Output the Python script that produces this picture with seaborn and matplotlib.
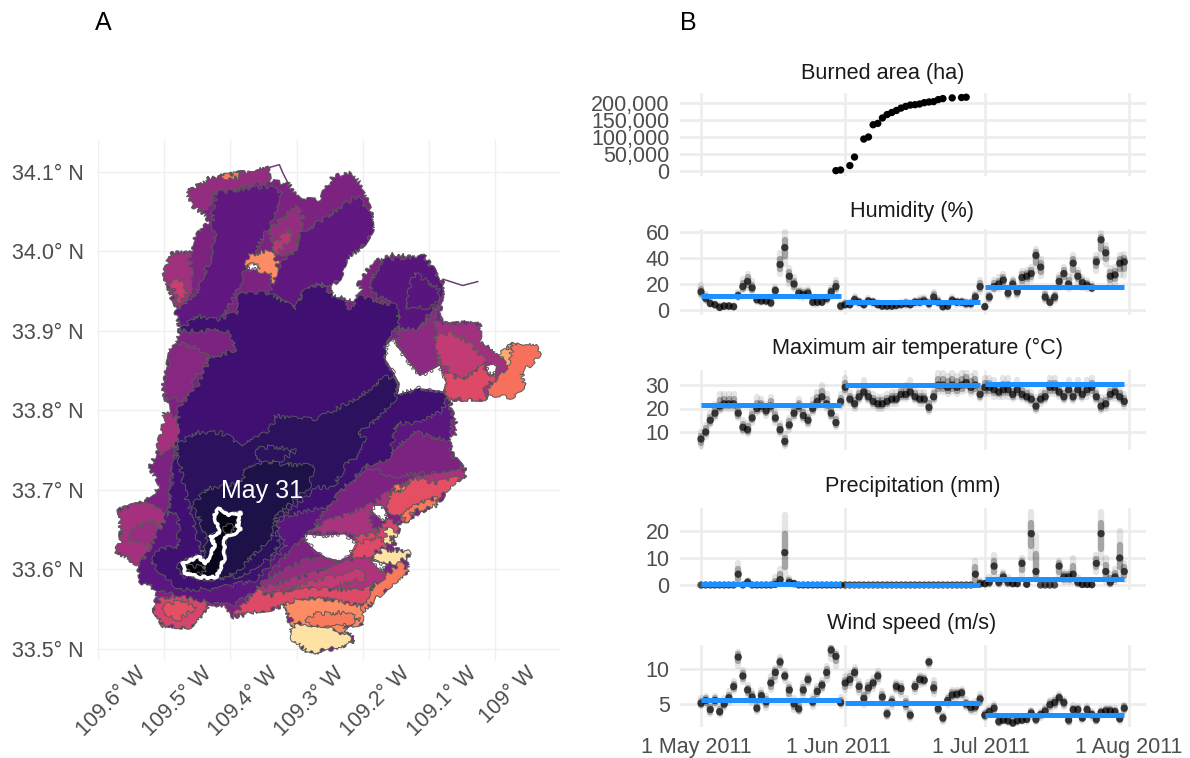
import numpy as np
import pandas as pd
import matplotlib.pyplot as plt
from matplotlib.path import Path
from matplotlib.transforms import ScaledTranslation
import seaborn as sns

# ---- time series, one value per day 1 May - 31 Jul 2011
burn_days = [29, 30, 32, 33, 35, 36, 37, 38, 39, 40, 41, 42, 43, 44, 45, 46, 47, 48, 49, 50, 51, 52, 54, 56, 57]
burn_ha = [1000, 3000, 16000, 41000, 94000, 100000, 136000, 140000, 156000, 166000, 172000, 178000, 185000,
           190000, 194000, 195000, 197000, 201000, 203000, 204000, 210000, 213000, 215000, 216000, 217000]

hum = [14, 9, 5, 4, 2, 3, 3, 2.5, 11, 18, 22, 17, 8, 7, 7, 5.5, 15, 35, 48, 26, 20, 13, 12, 13, 6, 6, 6, 9, 14, 18, 3,
       4, 4, 8, 6, 4, 7, 6, 4, 3, 3, 3, 3.5, 4, 5, 4, 6, 6, 7, 5, 10, 6, 2.5, 3, 7.5, 6, 6, 5, 5, 10, 18,
       2.5, 10, 18, 20, 23, 13, 20, 14, 25, 26, 28, 42, 33, 10, 6, 10, 22, 28, 20, 36, 26, 21, 19, 17, 37, 54, 44, 26, 27, 36, 37]
hum_lo = [11, 7, 4, 3, 1.5, 2, 2, 2, 9, 15, 17, 14, 6, 5, 5, 4, 12, 28, 35, 20, 16, 10, 9, 10, 4, 4, 5, 7, 10, 14, 1.5,
          3, 3, 5, 4, 3, 5, 4, 3, 2, 2, 2, 2, 3, 3, 3, 4, 4, 5, 3, 6, 4, 1.5, 2, 5, 4, 4, 3, 3, 7, 14,
          1.5, 7, 15, 16, 18, 10, 16, 11, 19, 21, 23, 30, 26, 7, 4, 7, 17, 22, 16, 25, 21, 17, 16, 15, 30, 40, 35, 20, 20, 27, 26]
hum_hi = [19, 12, 7, 5, 3.5, 4, 4, 4, 14, 24, 28, 22, 10, 9, 9, 8, 18, 44, 60, 32, 25, 16, 15, 16, 9, 9, 9, 11, 17, 23, 5,
          6, 6, 11, 8, 6, 9, 8, 6, 5, 5, 5, 5, 6, 7, 6, 8, 9, 10, 7, 14, 9, 4, 5, 10, 8, 8, 7, 7, 13, 23,
          4, 13, 23, 25, 28, 16, 24, 17, 30, 31, 33, 47, 39, 14, 9, 13, 27, 33, 26, 42, 31, 25, 23, 20, 42, 59, 50, 32, 33, 42, 43]

tmax = [7, 10, 15, 18, 21, 22, 22, 22, 18, 12, 11, 16, 20, 21, 19, 21, 16, 11, 6, 13, 18, 21, 17, 15, 20, 23, 25, 22, 18, 14, 23,
        29, 24, 22, 25, 27, 25, 23, 22, 22, 23, 24, 24, 26, 26, 27, 25, 24, 24, 20.5, 25, 30, 30, 29, 30, 29, 30, 31, 29, 30, 26,
        29, 29, 28, 27, 28, 28, 26, 28, 26, 25, 24, 21, 24, 25, 29, 29, 27, 25, 28, 25, 28, 26, 28, 29, 25, 21, 22, 26, 27, 25, 23]
tmax_lo = [4, 8, 13, 16, 19, 20, 20, 20, 16, 10, 9, 14, 18, 19, 17, 19, 14, 9, 4, 11, 16, 19, 15, 13, 18, 21, 23, 20, 16, 12, 21,
           27, 22, 20, 23, 25, 23, 21, 20, 20, 21, 22, 22, 24, 24, 25, 23, 22, 22, 18.5, 23, 27, 27, 26, 27, 26, 27, 28, 26, 27, 24,
           26, 26, 25, 25, 25, 25, 24, 25, 24, 23, 22, 19, 22, 23, 26, 26, 25, 23, 25, 23, 25, 24, 25, 26, 23, 19, 20, 24, 24, 23, 21]
tmax_hi = [10, 13, 18, 22, 26, 26, 26, 26, 21, 15, 14, 19, 25, 24, 22, 25, 19, 14, 9, 16, 21, 24, 20, 18, 24, 27, 30, 26, 21, 17, 26,
           33, 27, 25, 28, 32, 28, 26, 25, 25, 26, 27, 27, 29, 30, 32, 28, 27, 27, 24, 28, 35, 35, 34, 35, 34, 35, 36, 34, 35, 29,
           33, 33, 32, 30, 33, 33, 29, 32, 30, 28, 27, 25, 27, 28, 33, 33, 30, 28, 32, 28, 32, 30, 32, 33, 28, 25, 25, 29, 30, 28, 26]

prec = [0, 0, 0, 0, 0, 0, 0, 0, 4, 0, 1, 0, 0, 0, 0, 0, 0.3, 2, 12, 1, 0.5, 0, 0, 0, 0, 0, 0, 0, 0, 0, 0,
        0, 0, 0, 0, 0, 0, 0, 0, 0, 0, 0, 0, 0, 0, 0, 0, 0, 0, 0, 0, 0, 0, 0, 0, 0, 0, 0, 0, 4, 0.5,
        0.5, 1, 7, 1, 3, 1, 0.5, 0.5, 8, 0.3, 19, 5, 0, 0, 0, 0, 7, 3, 3, 4, 1, 0.2, 0.2, 0.1, 8, 19, 5, 1, 3, 10, 5]
prec_lo = [0, 0, 0, 0, 0, 0, 0, 0, 0.5, 0, 0.3, 0, 0, 0, 0, 0, 0, 0.5, 1, 0.3, 0, 0, 0, 0, 0, 0, 0, 0, 0, 0, 0,
           0, 0, 0, 0, 0, 0, 0, 0, 0, 0, 0, 0, 0, 0, 0, 0, 0, 0, 0, 0, 0, 0, 0, 0, 0, 0, 0, 0, 0, 0,
           0, 0, 3, 0, 1, 0, 0, 0, 3, 0, 10, 2, 0, 0, 0, 0, 3, 1, 1, 1, 0, 0, 0, 0, 5, 8, 1, 0, 1, 3, 2]
prec_hi = [0, 0, 0, 0, 0, 0, 0, 0, 8, 0, 2, 0, 0, 0, 0, 0, 3, 6, 26, 2.5, 1, 0, 0, 0, 0, 0, 0, 0, 0, 0, 0,
           0, 0, 0, 0, 0, 0, 0, 0, 0, 0, 0, 0, 0, 0, 0, 0, 0, 0, 0, 0, 0, 0, 0, 0, 0, 0, 0, 0, 9, 2,
           1, 3, 11, 3, 5, 3, 1.5, 1, 10, 1, 27, 18, 0, 0, 0, 0, 9, 5, 5, 10, 3, 0.5, 0.5, 0.5, 11, 27, 10, 4, 6, 20, 8]

wind = [5.1, 5.5, 4.2, 5.5, 3.9, 5, 5.9, 7.5, 11.7, 9, 7, 6, 4.4, 6.2, 5.3, 8, 9.5, 11, 9, 7, 5, 4.3, 7, 8.5, 5.3, 6.8, 7.7, 9.5, 12.7, 11.8, 5.2,
        8, 8.5, 9.5, 7.5, 5.8, 7.3, 8, 9, 6, 3.6, 5.3, 7.5, 7.2, 5, 3.4, 7.5, 8.5, 8.4, 11, 7.3, 4.3, 3, 5.5, 6.3, 6.4, 6.6, 5, 4.5, 4.6, 5.7,
        3.4, 3.9, 4.4, 2.5, 2.7, 2.6, 2.3, 2.6, 2.7, 2.8, 3.7, 2.8, 3.5, 4, 4.9, 5.2, 5.9, 5.2, 2.7, 4.2, 4.2, 3, 4.2, 3.5, 2.8, 3.8, 4, 4, 3.9, 2.9, 4.4]
wind_lo = [4.7, 4.8, 3.6, 4.8, 3.4, 4.4, 5.2, 6.8, 10.5, 8.2, 6.2, 5.2, 3.9, 5.5, 4.5, 7, 8.3, 10.2, 8.3, 6, 4.2, 3.8, 6.2, 7.8, 4.6, 6, 7, 8.5, 11.5, 10.5, 4.7,
           7, 7.6, 8.7, 6.6, 4.8, 6.4, 7.2, 8.2, 5.4, 3.1, 4.6, 6.8, 6.3, 4.2, 2.9, 6.7, 7.7, 7.8, 10.5, 6.5, 3.8, 2.5, 4.8, 5.6, 5.8, 6, 4.4, 3.9, 3.9, 5,
           3, 3.4, 3.9, 2.2, 2.4, 2.3, 2, 2.3, 2.4, 2.5, 3.1, 2.4, 3, 3.5, 4.2, 4.6, 5.3, 4.6, 2.3, 3.7, 3.7, 2.6, 3.7, 3, 2.4, 3.3, 3.5, 3.5, 3.4, 2.5, 3.9]
wind_hi = [5.8, 6.2, 5, 6.2, 4.6, 5.8, 6.8, 8.3, 12.5, 9.8, 7.7, 6.9, 5, 7, 6.2, 9, 10.2, 11.7, 9.7, 7.9, 5.8, 5, 8, 9.2, 6.2, 7.6, 8.4, 10.5, 13.3, 12.5, 6,
           9, 9.4, 10.3, 8.3, 6.8, 8.2, 8.7, 9.7, 6.8, 4.2, 6, 8.2, 8, 5.8, 4, 8.2, 9.2, 9, 11.4, 8.4, 4.9, 3.6, 6.2, 7, 7, 7.2, 5.7, 5.2, 5.4, 6.4,
           3.9, 4.4, 5, 2.9, 3.2, 3.1, 2.8, 3.1, 3.2, 3.3, 4.2, 3.3, 4, 4.6, 5.6, 5.9, 6.4, 5.7, 3.2, 4.8, 4.7, 3.5, 4.7, 4, 3.3, 4.3, 4.5, 4.5, 4.4, 3.4, 4.9]

hum_month = [10.5, 6, 17.5]
tmax_month = [21.5, 30, 30.5]
prec_month = [0.2, 0.1, 2.4]
wind_month = [5.6, 5.1, 3.4]

month_start = ['2011-05-01', '2011-06-01', '2011-07-01']
month_end = ['2011-05-31', '2011-06-30', '2011-07-31']
date_ticks = ['2011-05-01', '2011-06-01', '2011-07-01', '2011-08-01']
date_labels = ['1 May 2011', '1 Jun 2011', '1 Jul 2011', '1 Aug 2011']

# ---- fire perimeters digitised as (lon W, lat N)
perimeter_all = [(109.466, 34.074), (109.432, 34.092), (109.343, 34.105), (109.341, 34.088), (109.313, 34.086), (109.296, 34.065),
                 (109.265, 34.065), (109.245, 34.094), (109.217, 34.099), (109.200, 34.082), (109.187, 34.050), (109.185, 34.027),
                 (109.200, 34.006), (109.225, 33.990), (109.235, 33.965), (109.245, 33.958), (109.243, 33.944), (109.215, 33.939),
                 (109.200, 33.948), (109.207, 33.960), (109.185, 33.986), (109.154, 33.996), (109.107, 33.994), (109.079, 33.960),
                 (109.079, 33.948), (109.084, 33.914), (109.023, 33.908), (109.023, 33.889), (108.981, 33.856), (109.018, 33.826),
                 (109.013, 33.814), (109.069, 33.814), (109.064, 33.793), (109.056, 33.776), (109.069, 33.761), (109.064, 33.743),
                 (109.046, 33.726), (109.046, 33.717), (109.069, 33.711), (109.081, 33.688), (109.114, 33.671), (109.144, 33.659),
                 (109.152, 33.629), (109.129, 33.621), (109.132, 33.598), (109.165, 33.575), (109.200, 33.546), (109.202, 33.531),
                 (109.230, 33.529), (109.212, 33.510), (109.235, 33.502), (109.280, 33.494), (109.306, 33.512), (109.308, 33.529),
                 (109.321, 33.554), (109.338, 33.550), (109.366, 33.546), (109.396, 33.539), (109.406, 33.554), (109.432, 33.552),
                 (109.462, 33.527), (109.502, 33.529), (109.515, 33.548), (109.510, 33.575), (109.535, 33.581), (109.540, 33.606),
                 (109.573, 33.623), (109.565, 33.638), (109.568, 33.675), (109.527, 33.686), (109.505, 33.705), (109.522, 33.728),
                 (109.505, 33.757), (109.490, 33.789), (109.502, 33.828), (109.492, 33.868), (109.490, 33.877), (109.480, 33.885),
                 (109.477, 33.900), (109.482, 33.927), (109.497, 33.960), (109.500, 33.973), (109.490, 33.998), (109.457, 33.998),
                 (109.454, 34.017), (109.432, 34.038)]
ne_lobe = [(109.018, 33.826), (108.998, 33.845), (108.986, 33.851), (108.991, 33.872), (108.970, 33.885), (108.938, 33.881),
           (108.933, 33.870), (108.948, 33.856), (108.960, 33.847), (108.955, 33.831), (108.976, 33.816), (109.006, 33.820)]
ne_small = [(108.993, 33.870), (108.973, 33.885), (108.978, 33.860), (108.986, 33.856)]
pale_south = [(109.308, 33.525), (109.296, 33.532), (109.263, 33.529), (109.250, 33.529), (109.228, 33.518), (109.212, 33.510),
              (109.235, 33.502), (109.250, 33.503), (109.280, 33.494), (109.306, 33.512)]
pale_east = [(109.185, 33.613), (109.170, 33.625), (109.129, 33.622), (109.132, 33.615), (109.149, 33.608), (109.170, 33.606)]
pale_east2 = [(109.166, 33.652), (109.149, 33.648), (109.149, 33.641), (109.159, 33.639), (109.154, 33.633), (109.166, 33.631)]
orange_south = [(109.321, 33.554), (109.296, 33.564), (109.245, 33.562), (109.200, 33.554), (109.202, 33.531), (109.228, 33.529),
                (109.223, 33.518), (109.250, 33.529), (109.263, 33.529), (109.296, 33.533), (109.308, 33.527), (109.306, 33.535)]
orange_south2 = [(109.275, 33.544), (109.225, 33.546), (109.205, 33.537), (109.228, 33.529), (109.250, 33.529), (109.263, 33.529), (109.286, 33.533)]
orange_se = [(109.200, 33.554), (109.185, 33.579), (109.165, 33.592), (109.144, 33.608), (109.129, 33.598), (109.165, 33.575), (109.200, 33.546)]
east_pink = [(109.245, 33.662), (109.184, 33.683), (109.149, 33.704), (109.093, 33.723), (109.058, 33.725), (109.046, 33.721),
             (109.058, 33.709), (109.078, 33.711), (109.093, 33.704), (109.154, 33.700), (109.159, 33.683), (109.184, 33.675),
             (109.189, 33.662), (109.179, 33.646), (109.209, 33.641), (109.229, 33.646), (109.285, 33.646), (109.275, 33.654)]
east_red = [(109.159, 33.694), (109.144, 33.700), (109.124, 33.715), (109.093, 33.709), (109.078, 33.711), (109.061, 33.719),
            (109.053, 33.715), (109.073, 33.700), (109.088, 33.690), (109.114, 33.683), (109.124, 33.673), (109.134, 33.660),
            (109.159, 33.673), (109.164, 33.683)]
orange_e1 = [(109.156, 33.702), (109.144, 33.706), (109.136, 33.702), (109.144, 33.696)]
orange_e2 = [(109.109, 33.683), (109.088, 33.691), (109.086, 33.681), (109.103, 33.677), (109.124, 33.673), (109.134, 33.660),
             (109.144, 33.669), (109.124, 33.679)]
red_low = [(109.209, 33.641), (109.179, 33.646), (109.164, 33.662), (109.144, 33.658), (109.159, 33.637), (109.174, 33.633),
           (109.179, 33.627), (109.207, 33.627), (109.217, 33.625)]
red_hole = [(109.215, 33.630), (109.175, 33.642), (109.165, 33.629), (109.195, 33.615), (109.215, 33.613)]
band_purple = [(109.366, 33.579), (109.296, 33.608), (109.205, 33.634), (109.195, 33.621), (109.275, 33.596), (109.356, 33.575)]
band_south = [(109.361, 33.575), (109.286, 33.592), (109.195, 33.617), (109.185, 33.611), (109.165, 33.592), (109.185, 33.579),
              (109.200, 33.573), (109.245, 33.575), (109.301, 33.575), (109.341, 33.567)]
band_south2 = [(109.336, 33.571), (109.286, 33.583), (109.205, 33.600), (109.195, 33.588), (109.245, 33.579), (109.296, 33.575)]
band_red = [(109.396, 33.541), (109.361, 33.575), (109.341, 33.567), (109.301, 33.575), (109.245, 33.575), (109.200, 33.573),
            (109.185, 33.579), (109.200, 33.554), (109.245, 33.562), (109.296, 33.564), (109.321, 33.554), (109.338, 33.550), (109.366, 33.546)]
sw_lobe = [(109.515, 33.548), (109.505, 33.564), (109.472, 33.567), (109.452, 33.567), (109.432, 33.552), (109.462, 33.527), (109.502, 33.529)]
sw_inner = [(109.502, 33.554), (109.472, 33.562), (109.452, 33.552), (109.477, 33.537), (109.500, 33.541)]
west_lobe = [(109.573, 33.623), (109.565, 33.638), (109.568, 33.675), (109.527, 33.686), (109.502, 33.671), (109.487, 33.638),
             (109.522, 33.625), (109.540, 33.606)]
west_inner = [(109.548, 33.650), (109.517, 33.663), (109.497, 33.638), (109.527, 33.629), (109.553, 33.638)]
west_mid = [(109.500, 33.797), (109.459, 33.784), (109.457, 33.774), (109.482, 33.757), (109.505, 33.743), (109.510, 33.757), (109.502, 33.776)]
west_upper = [(109.490, 33.877), (109.477, 33.885), (109.452, 33.879), (109.432, 33.866), (109.457, 33.835), (109.452, 33.814), (109.500, 33.814)]
west_north = [(109.500, 33.973), (109.490, 33.998), (109.462, 33.998), (109.457, 33.952), (109.477, 33.927), (109.495, 33.956)]
west_north2 = [(109.490, 33.960), (109.477, 33.965), (109.464, 33.950), (109.477, 33.935)]
north_top = [(109.466, 34.074), (109.432, 34.092), (109.343, 34.105), (109.341, 34.088), (109.422, 34.074), (109.442, 34.048), (109.457, 34.057)]
north_mid = [(109.422, 34.074), (109.346, 34.082), (109.321, 34.074), (109.341, 34.032), (109.361, 34.002), (109.376, 33.981),
             (109.391, 33.948), (109.422, 33.902), (109.477, 33.902), (109.482, 33.923), (109.452, 33.948), (109.432, 33.986),
             (109.424, 34.019), (109.427, 34.044)]
north_east = [(109.275, 34.032), (109.210, 34.069), (109.187, 34.050), (109.185, 34.027), (109.200, 34.006), (109.225, 33.990),
              (109.235, 33.965), (109.245, 33.958), (109.265, 33.960), (109.291, 33.948), (109.301, 33.927), (109.341, 33.948),
              (109.331, 33.977), (109.301, 34.002), (109.296, 34.023)]
north_pink = [(109.341, 34.027), (109.301, 34.057), (109.291, 34.044), (109.296, 34.023), (109.301, 34.002), (109.331, 33.994)]
north_pink2 = [(109.336, 34.006), (109.313, 34.029), (109.306, 34.019), (109.328, 33.998)]
east_lobe = [(109.170, 33.990), (109.107, 33.994), (109.079, 33.960), (109.079, 33.948), (109.114, 33.902), (109.129, 33.900),
             (109.144, 33.906), (109.149, 33.931), (109.185, 33.948), (109.190, 33.960)]
east_lobe_in = [(109.122, 33.973), (109.084, 33.952), (109.089, 33.931), (109.134, 33.927), (109.129, 33.952)]
ne_band = [(109.094, 33.910), (109.023, 33.908), (109.023, 33.889), (108.981, 33.856), (109.013, 33.826), (109.013, 33.814),
           (109.074, 33.814), (109.084, 33.856), (109.089, 33.893)]
ne_left = [(109.149, 33.881), (109.144, 33.902), (109.114, 33.902), (109.084, 33.931), (109.094, 33.910), (109.089, 33.893),
           (109.084, 33.856), (109.114, 33.843)]
ne_mid = [(109.089, 33.893), (109.064, 33.898), (109.034, 33.881), (109.013, 33.860), (109.051, 33.839), (109.084, 33.860)]
ne_red = [(109.074, 33.847), (109.051, 33.839), (109.018, 33.856), (109.001, 33.839), (109.018, 33.826), (109.013, 33.814), (109.074, 33.814)]
orange_mid = [(109.376, 33.979), (109.374, 33.994), (109.341, 34.002), (109.328, 33.986), (109.331, 33.975), (109.333, 33.958),
              (109.338, 33.958), (109.338, 33.973), (109.356, 33.975), (109.364, 33.983)]
orange_top = [(109.413, 34.095), (109.384, 34.099), (109.384, 34.094), (109.404, 34.090)]
ring_dark = [(109.538, 33.604), (109.522, 33.627), (109.495, 33.671), (109.482, 33.755), (109.454, 33.772), (109.210, 33.814),
             (109.074, 33.818), (109.064, 33.793), (109.069, 33.743), (109.195, 33.728), (109.240, 33.692), (109.275, 33.652),
             (109.326, 33.608), (109.361, 33.575), (109.396, 33.554), (109.432, 33.558), (109.510, 33.575), (109.535, 33.583)]
east_side = [(109.122, 33.773), (109.069, 33.761), (109.064, 33.743), (109.046, 33.726), (109.154, 33.717), (109.195, 33.730), (109.160, 33.745)]
core_big = [(109.477, 33.900), (109.452, 33.919), (109.422, 33.914), (109.391, 33.923), (109.389, 33.946), (109.341, 33.948),
            (109.301, 33.927), (109.291, 33.948), (109.265, 33.960), (109.245, 33.944), (109.225, 33.939), (109.220, 33.927),
            (109.205, 33.944), (109.149, 33.931), (109.144, 33.906), (109.160, 33.893), (109.165, 33.868), (109.154, 33.847),
            (109.144, 33.828), (109.114, 33.828), (109.079, 33.824), (109.074, 33.810), (109.081, 33.799), (109.114, 33.784),
            (109.149, 33.784), (109.160, 33.738), (109.190, 33.732), (109.238, 33.696), (109.245, 33.680), (109.316, 33.667),
            (109.331, 33.659), (109.316, 33.629), (109.361, 33.587), (109.424, 33.575), (109.477, 33.575), (109.520, 33.608),
            (109.507, 33.625), (109.477, 33.629), (109.480, 33.669), (109.495, 33.669), (109.482, 33.755), (109.477, 33.805),
            (109.447, 33.835), (109.432, 33.864), (109.391, 33.877), (109.406, 33.900)]
core_dark = [(109.482, 33.755), (109.454, 33.772), (109.414, 33.772), (109.381, 33.757), (109.341, 33.774), (109.331, 33.793),
             (109.296, 33.789), (109.270, 33.789), (109.210, 33.814), (109.165, 33.843), (109.144, 33.835), (109.152, 33.814),
             (109.177, 33.789), (109.205, 33.772), (109.195, 33.761), (109.205, 33.743), (109.225, 33.732), (109.245, 33.703),
             (109.270, 33.703), (109.296, 33.684), (109.326, 33.663), (109.331, 33.646), (109.326, 33.634), (109.336, 33.617),
             (109.381, 33.592), (109.432, 33.587), (109.477, 33.592), (109.480, 33.608), (109.442, 33.621), (109.452, 33.646),
             (109.467, 33.692), (109.472, 33.717)]
core_darker = [(109.457, 33.680), (109.437, 33.701), (109.381, 33.709), (109.381, 33.726), (109.346, 33.734), (109.275, 33.730),
               (109.280, 33.705), (109.331, 33.667), (109.336, 33.642), (109.381, 33.604), (109.411, 33.587), (109.447, 33.592),
               (109.437, 33.638), (109.442, 33.655)]
core_inlet = [(109.361, 33.751), (109.336, 33.755), (109.301, 33.749), (109.321, 33.738), (109.348, 33.732), (109.359, 33.740)]
may31 = [(109.473, 33.608), (109.447, 33.615), (109.437, 33.608), (109.424, 33.629), (109.429, 33.642), (109.417, 33.646),
         (109.424, 33.669), (109.417, 33.676), (109.404, 33.669), (109.384, 33.671), (109.389, 33.655), (109.384, 33.652),
         (109.399, 33.642), (109.409, 33.640), (109.409, 33.613), (109.422, 33.590), (109.447, 33.590), (109.469, 33.596)]
may31_a = [(109.469, 33.604), (109.437, 33.604), (109.442, 33.594), (109.467, 33.598)]
may31_b = [(109.409, 33.654), (109.389, 33.657), (109.399, 33.644), (109.409, 33.642)]

# unburned islands, in clockwise order so they punch out of the clip
holes = [[(109.149, 33.881), (109.114, 33.843), (109.084, 33.856), (109.074, 33.835), (109.079, 33.824), (109.114, 33.828),
          (109.147, 33.820), (109.144, 33.833), (109.154, 33.849), (109.165, 33.864), (109.165, 33.881), (109.152, 33.891)],
         [(109.288, 33.644), (109.265, 33.642), (109.228, 33.644), (109.210, 33.634), (109.220, 33.617), (109.235, 33.611),
          (109.255, 33.615), (109.270, 33.623), (109.278, 33.629), (109.286, 33.636)],
         [(109.185, 33.680), (109.170, 33.680), (109.162, 33.665), (109.170, 33.661), (109.185, 33.673)],
         [(109.376, 33.979), (109.364, 33.986), (109.356, 33.977), (109.369, 33.977)],
         [(109.187, 33.611), (109.165, 33.606), (109.170, 33.596), (109.180, 33.604)],
         [(109.013, 33.856), (108.998, 33.858), (109.001, 33.843), (109.011, 33.847)]]
thin_north = [(109.343, 34.105), (109.326, 34.109), (109.321, 34.099), (109.313, 34.086)]
thin_east = [(109.079, 33.965), (109.049, 33.957), (109.026, 33.962)]

# polygon and where it sits on the magma scale, latest burn first
map_layers = [(perimeter_all, 0.36), (ne_lobe, 0.70), (ne_small, 0.82), (pale_south, 0.94), (pale_east, 0.94),
              (orange_south, 0.76), (orange_south2, 0.72), (orange_se, 0.72), (band_purple, 0.42), (band_south, 0.48), (band_south2, 0.53),
              (band_red, 0.60), (sw_lobe, 0.58), (sw_inner, 0.62),
              (east_pink, 0.47), (east_red, 0.62), (orange_e1, 0.72), (orange_e2, 0.72), (red_low, 0.58), (red_hole, 0.60), (pale_east2, 0.94),
              (west_lobe, 0.46), (west_inner, 0.43), (west_mid, 0.46), (west_upper, 0.39),
              (west_north, 0.45), (west_north2, 0.55), (north_top, 0.42), (north_mid, 0.29), (north_east, 0.29), (north_pink, 0.42),
              (north_pink2, 0.50), (orange_mid, 0.76), (orange_top, 0.72), (east_lobe, 0.27), (east_lobe_in, 0.27), (ne_band, 0.45),
              (ne_left, 0.40), (ne_mid, 0.53), (ne_red, 0.60), (ring_dark, 0.28), (east_side, 0.36), (core_big, 0.21), (core_dark, 0.165),
              (core_inlet, 0.165), (core_darker, 0.125), (may31, 0.05), (may31_a, 0.0), (may31_b, 0.0)]

lon_ticks = [-109.6, -109.5, -109.4, -109.3, -109.2, -109.1, -109.0]
lon_labels = ['109.6° W', '109.5° W', '109.4° W', '109.3° W', '109.2° W', '109.1° W', '109° W']
lat_ticks = [33.5, 33.6, 33.7, 33.8, 33.9, 34.0, 34.1]
lat_labels = ['33.5° N', '33.6° N', '33.7° N', '33.8° N', '33.9° N', '34.0° N', '34.1° N']

W, H = 1190, 758
GRID = '#EDEDED'
TICK = '#4D4D4D'

sns.set_theme(style='whitegrid')
plt.rcParams['font.family'] = ['Liberation Sans', 'DejaVu Sans']

fig = plt.figure(figsize=(W / 100, H / 100), dpi=100)
magma = sns.color_palette('magma', as_cmap=True)


def panel(left, top, right, bottom):
    ax = fig.add_axes([left / W, 1 - bottom / H, (right - left) / W, (bottom - top) / H])
    sns.despine(ax=ax, left=True, bottom=True)
    return ax


def lonlat(poly):
    return [-p[0] for p in poly], [p[1] for p in poly]


def nudge(label, dx, dy=0):
    label.set_transform(label.get_transform() + ScaledTranslation(dx / 100, dy / 100, fig.dpi_scale_trans))


# map
ax = panel(98, 140, 560, 660)
ax.set_xlim(-109.6, -108.902)
ax.set_ylim(33.486, 34.14)
ax.grid(True, color='#F0F0F0', lw=1)
ax.set_xticks(lon_ticks)
ax.set_xticklabels(lon_labels, rotation=45, ha='center', va='top')
ax.set_yticks(lat_ticks)
ax.set_yticklabels(lat_labels)
ax.tick_params(length=0, labelsize=15.5, labelcolor=TICK, pad=10)
ax.tick_params(axis='x', pad=2)
for lab in ax.get_xticklabels():
    nudge(lab, 13)

rect = [(-110, 33), (-108, 33), (-108, 35), (-110, 35), (-110, 33)]
clip_verts = list(rect)
clip_codes = [Path.MOVETO] + [Path.LINETO] * 3 + [Path.CLOSEPOLY]
for h in holes:
    xs, ys = lonlat(h)
    clip_verts += list(zip(xs, ys)) + [(xs[0], ys[0])]
    clip_codes += [Path.MOVETO] + [Path.LINETO] * (len(h) - 1) + [Path.CLOSEPOLY]
clip = Path(clip_verts, clip_codes)

for poly, shade in map_layers:
    xs, ys = lonlat(poly)
    for p in ax.fill(xs, ys, facecolor=magma(shade), edgecolor='#5a5a5a', lw=0.7):
        p.set_clip_path(clip, ax.transData)
        p.set_sketch_params(2.2, 16, 40)
for h in holes:
    xs, ys = lonlat(h)
    for p in ax.fill(xs, ys, facecolor='none', edgecolor='#5a5a5a', lw=0.7):
        p.set_sketch_params(2.2, 16, 40)
for line in [thin_north, thin_east]:
    xs, ys = lonlat(line)
    ax.plot(xs, ys, color='#6b3f78', lw=1.1)

xs, ys = lonlat(may31)
for p in ax.fill(xs, ys, facecolor='none', edgecolor='white', lw=2.4, joinstyle='round'):
    p.set_sketch_params(1.2, 10, 40)
ax.text(-109.352, 33.699, 'May 31', color='white', fontsize=18, ha='center', va='center')

# time series
days = pd.date_range('2011-05-01', '2011-07-31')
panels = [
    ('Humidity (%)', hum, hum_lo, hum_hi, hum_month, 229, 315, 310, 232, 0, 60, [0, 20, 40, 60], 912, 211),
    ('Maximum air temperature (°C)', tmax, tmax_lo, tmax_hi, tmax_month, 370, 450, 432, 385, 10, 30, [10, 20, 30], 917, 348),
    ('Precipitation (mm)', prec, prec_lo, prec_hi, prec_month, 508, 590, 585, 531, 0, 20, [0, 10, 20], 913, 486),
    ('Wind speed (m/s)', wind, wind_lo, wind_hi, wind_month, 645, 727, 704, 669, 5, 10, [5, 10], 912, 624),
]
XL, XR = 680, 1146
d0 = pd.Timestamp('2011-05-01')
xlim = (d0 + pd.Timedelta(days=(XL - 701) / 4.652), d0 + pd.Timedelta(days=(XR - 701) / 4.652))
label_shift = [-5, -7, -4, 0]


def style(ax, ticks, labels=False):
    ax.grid(True, color=GRID, lw=2)
    ax.set_axisbelow(True)
    ax.set_xlim(xlim)
    ax.set_xticks(pd.to_datetime(date_ticks))
    ax.set_xticklabels(date_labels if labels else [])
    ax.set_yticks(ticks)
    ax.set_xlabel('')
    ax.set_ylabel('')
    ax.tick_params(length=0, labelsize=15.5, labelcolor=TICK, pad=7.5)
    if labels:
        ax.tick_params(axis='x', pad=7)
        for lab, dx in zip(ax.get_xticklabels(), label_shift):
            nudge(lab, dx)


ax = panel(XL, 93, XR, 176)
burn = pd.DataFrame({'date': [d0 + pd.Timedelta(days=d) for d in burn_days], 'ha': burn_ha})
sns.scatterplot(data=burn, x='date', y='ha', color='black', s=28, edgecolor='none', ax=ax)
ax.set_ylim(0 - 5 * 2941, 0 + 78 * 2941)
style(ax, [0, 50000, 100000, 150000, 200000])
ax.set_yticklabels(['0', '50,000', '100,000', '150,000', '200,000'])
fig.text(883 / W, 1 - 73 / H, 'Burned area (ha)', ha='center', va='center', fontsize=15.6, color='#1a1a1a')

for title, vals, lo, hi, month, top, bottom, py0, py1, v0, v1, ticks, tx, ty in panels:
    ax = panel(XL, top, XR, bottom)
    df = pd.DataFrame({'date': days, 'v': vals, 'lo': lo, 'hi': hi})
    df['mid_lo'] = (df['lo'] + df['v']) / 2
    df['mid_hi'] = (df['hi'] + df['v']) / 2
    ax.vlines(df['date'], df['lo'], df['hi'], color='black', lw=4.6, alpha=0.1, capstyle='round')
    ax.vlines(df['date'], df['mid_lo'], df['mid_hi'], color='black', lw=4.6, alpha=0.28, capstyle='round')
    sns.scatterplot(data=df, x='date', y='v', color='black', s=28, alpha=0.68, edgecolor='none', ax=ax)
    for s, e, m in zip(month_start, month_end, month):
        seg = pd.DataFrame({'date': pd.to_datetime([s, e]), 'v': [m, m]})
        sns.lineplot(data=seg, x='date', y='v', color='#1E90FF', lw=3.6, ax=ax, solid_capstyle='butt')
    per_px = (v1 - v0) / (py0 - py1)
    ax.set_ylim(v0 - (bottom - py0) * per_px, v0 + (py0 - top) * per_px)
    style(ax, ticks, labels=title.startswith('Wind'))
    fig.text(tx / W, 1 - ty / H, title, ha='center', va='center', fontsize=15.6, color='#1a1a1a')

fig.text(95 / W, 1 - 23 / H, 'A', fontsize=18, color='black', va='center')
fig.text(680 / W, 1 - 23 / H, 'B', fontsize=18, color='black', va='center')

fig.savefig('out.png', dpi=100)
